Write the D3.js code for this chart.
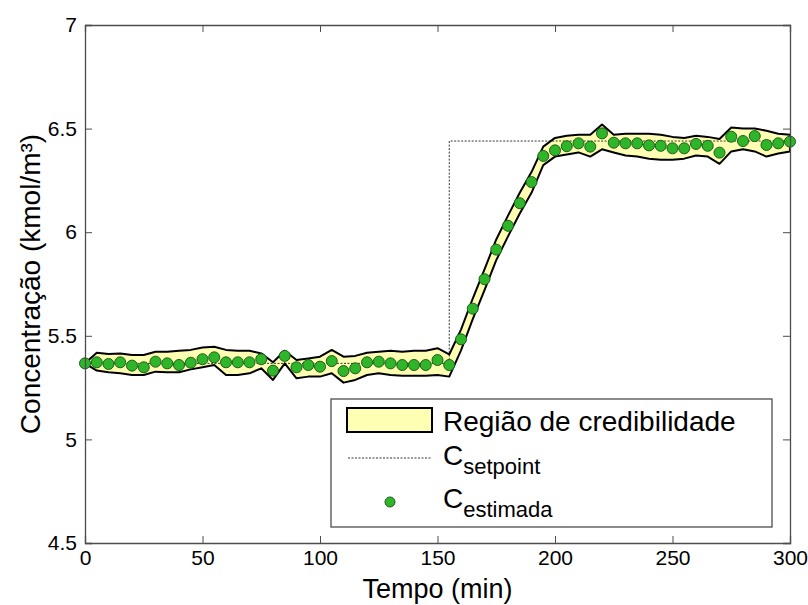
<!DOCTYPE html>
<html>
<head>
<meta charset="utf-8">
<script src="https://cdn.jsdelivr.net/npm/d3@7"></script>
<style>
  body { margin: 0; background: #fff; }
  text { font-family: 'Liberation Sans', Arial, sans-serif; }
</style>
</head>
<body>
<div class="chart"></div>
<script>
// data (tempo em min, concentração em kmol/m3)
var tempo = [0, 5, 10, 15, 20, 25, 30, 35, 40, 45, 50, 55, 60, 65, 70, 75, 80, 85, 90, 95,
             100, 105, 110, 115, 120, 125, 130, 135, 140, 145, 150, 155, 160, 165, 170, 175, 180, 185, 190, 195,
             200, 205, 210, 215, 220, 225, 230, 235, 240, 245, 250, 255, 260, 265, 270, 275, 280, 285, 290, 295, 300];

var cEstimada = [5.367, 5.372, 5.364, 5.372, 5.356, 5.348, 5.375, 5.367, 5.359, 5.370,
                 5.387, 5.396, 5.372, 5.372, 5.372, 5.387, 5.332, 5.403, 5.348, 5.359,
                 5.351, 5.378, 5.330, 5.343, 5.372, 5.375, 5.367, 5.359, 5.359, 5.359,
                 5.383, 5.359, 5.483, 5.631, 5.773, 5.916, 6.031, 6.140, 6.242, 6.368,
                 6.395, 6.415, 6.429, 6.413, 6.477, 6.432, 6.429, 6.429, 6.419, 6.417,
                 6.405, 6.405, 6.426, 6.417, 6.384, 6.461, 6.440, 6.464, 6.421, 6.429, 6.437];

var credSup = [5.367, 5.418, 5.412, 5.415, 5.407, 5.407, 5.423, 5.423, 5.428, 5.432,
               5.444, 5.447, 5.432, 5.428, 5.428, 5.415, 5.372, 5.428, 5.383, 5.391,
               5.399, 5.432, 5.399, 5.403, 5.418, 5.423, 5.428, 5.423, 5.428, 5.428,
               5.440, 5.410, 5.530, 5.680, 5.820, 5.965, 6.080, 6.190, 6.290, 6.413,
               6.455, 6.465, 6.470, 6.470, 6.520, 6.470, 6.475, 6.475, 6.475, 6.470,
               6.460, 6.455, 6.465, 6.460, 6.450, 6.505, 6.500, 6.500, 6.490, 6.475, 6.470];

var credInf = [5.367, 5.332, 5.324, 5.319, 5.311, 5.311, 5.327, 5.324, 5.324, 5.338,
               5.348, 5.359, 5.311, 5.311, 5.319, 5.343, 5.287, 5.367, 5.295, 5.303,
               5.303, 5.319, 5.274, 5.287, 5.311, 5.319, 5.311, 5.307, 5.307, 5.307,
               5.311, 5.303, 5.430, 5.580, 5.720, 5.865, 5.980, 6.090, 6.190, 6.324,
               6.365, 6.375, 6.385, 6.365, 6.400, 6.385, 6.370, 6.365, 6.355, 6.350,
               6.350, 6.355, 6.370, 6.365, 6.330, 6.390, 6.400, 6.390, 6.365, 6.380, 6.390];

// setpoint step
var spTempo = [0, 155, 155, 300];
var spValor = [5.367, 5.367, 6.44, 6.44];

var xTicks = [0, 50, 100, 150, 200, 250, 300];
var yTicks = [4.5, 5, 5.5, 6, 6.5, 7];

// sizes
var W = 808, H = 605;
var margin = {top: 25, right: 18, bottom: 62, left: 85};
var width = W - margin.left - margin.right;
var height = H - margin.top - margin.bottom;

var svg = d3.select('.chart')
            .append('svg')
            .attr('width', W)
            .attr('height', H);

var g = svg.append('g')
           .attr('transform', `translate(${margin.left},${margin.top})`);

var x = d3.scaleLinear().domain([0, 300]).range([0, width]);
var y = d3.scaleLinear().domain([4.5, 7]).range([height, 0]);

// credibility band
var band = d3.area()
             .x((d, i) => x(tempo[i]))
             .y0((d, i) => y(credInf[i]))
             .y1((d, i) => y(credSup[i]));

g.append('path')
 .datum(tempo)
 .attr('d', band)
 .attr('fill', '#ffffb3')
 .attr('stroke', '#000')
 .attr('stroke-width', 2)
 .attr('stroke-linejoin', 'round');

// setpoint line
var spLine = d3.line()
               .x((d, i) => x(spTempo[i]))
               .y((d, i) => y(spValor[i]));

g.append('path')
 .datum(spTempo)
 .attr('d', spLine)
 .attr('fill', 'none')
 .attr('stroke', '#000')
 .attr('stroke-width', 0.8)
 .attr('stroke-dasharray', '2,1.5');

// estimated points
g.selectAll('.ponto')
 .data(tempo)
 .enter()
 .append('circle')
 .attr('class', 'ponto')
 .attr('cx', (d, i) => x(d))
 .attr('cy', (d, i) => y(cEstimada[i]))
 .attr('r', 5.5)
 .attr('fill', '#2fb52a')
 .attr('stroke', '#1c5e18')
 .attr('stroke-width', 1);

// axes (matlab style, ticks inside on all sides)
var tickLen = 7;
var axisColor = '#4d4d4d';

var xBottom = g.append('g')
               .attr('transform', `translate(0,${height})`)
               .call(d3.axisBottom(x).tickValues(xTicks).tickSize(-tickLen).tickPadding(7).tickFormat(d3.format('d')));
var xTop = g.append('g')
            .call(d3.axisTop(x).tickValues(xTicks).tickSize(-tickLen).tickFormat(''));
var yLeft = g.append('g')
             .call(d3.axisLeft(y).tickValues(yTicks).tickSize(-tickLen).tickPadding(8).tickFormat(d => d));
var yRight = g.append('g')
              .attr('transform', `translate(${width},0)`)
              .call(d3.axisRight(y).tickValues(yTicks).tickSize(-tickLen).tickFormat(''));

[xBottom, xTop, yLeft, yRight].forEach(a => {
    a.select('.domain').attr('stroke', axisColor).attr('stroke-width', 1.3);
    a.selectAll('.tick line').attr('stroke', axisColor).attr('stroke-width', 1);
    a.selectAll('.tick text')
     .style('font-family', "'Liberation Sans', Arial, sans-serif")
     .style('font-size', '21px')
     .attr('fill', '#000');
});

// axis titles
svg.append('text')
   .attr('x', margin.left + width / 2)
   .attr('y', 598)
   .attr('text-anchor', 'middle')
   .style('font-size', '27px')
   .text('Tempo (min)');

svg.append('text')
   .attr('transform', `translate(40,${margin.top + height / 2}) rotate(-90)`)
   .attr('text-anchor', 'middle')
   .style('font-size', '28px')
   .text('Concentração (kmol/m³)');

// legend
var leg = svg.append('g').attr('class', 'legend');

leg.append('rect')
   .attr('x', 331).attr('y', 399)
   .attr('width', 441).attr('height', 128)
   .attr('fill', '#fff')
   .attr('stroke', axisColor)
   .attr('stroke-width', 1.3);

leg.append('rect')
   .attr('x', 347).attr('y', 408)
   .attr('width', 85).attr('height', 24)
   .attr('fill', '#ffffb3')
   .attr('stroke', '#000')
   .attr('stroke-width', 2);

leg.append('text')
   .attr('x', 443).attr('y', 431)
   .style('font-size', '28px')
   .text('Região de credibilidade');

leg.append('line')
   .attr('x1', 348).attr('x2', 432)
   .attr('y1', 458).attr('y2', 458)
   .attr('stroke', '#000')
   .attr('stroke-width', 0.8)
   .attr('stroke-dasharray', '2,1.5');

var t2 = leg.append('text')
            .attr('x', 443).attr('y', 465)
            .style('font-size', '28px');
t2.append('tspan').text('C');
t2.append('tspan').attr('dy', 9).style('font-size', '22px').text('setpoint');

leg.append('circle')
   .attr('cx', 390).attr('cy', 502)
   .attr('r', 5)
   .attr('fill', '#2fb52a')
   .attr('stroke', '#1c5e18')
   .attr('stroke-width', 1);

var t3 = leg.append('text')
            .attr('x', 443).attr('y', 508)
            .style('font-size', '28px');
t3.append('tspan').text('C');
t3.append('tspan').attr('dy', 9).style('font-size', '22px').text('estimada');
</script>
</body>
</html>
